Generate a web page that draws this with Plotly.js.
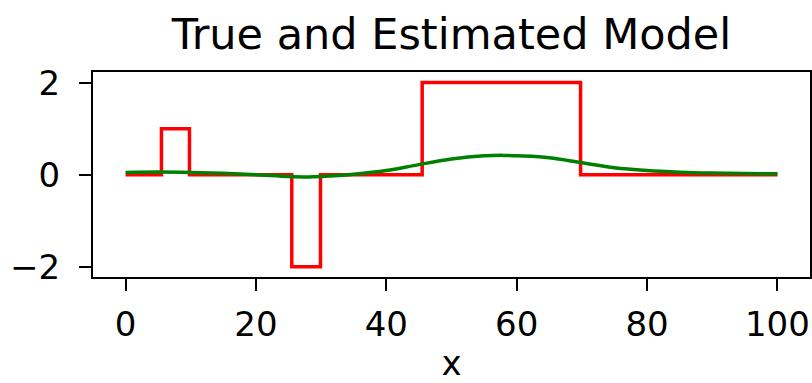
<!DOCTYPE html>
<html>
<head>
<meta charset="utf-8">
<script src="https://cdn.plot.ly/plotly-3.0.1.min.js"></script>
<style>html,body{margin:0;padding:0;background:#fff;}#chart{width:812px;height:383px;}</style>
</head>
<body>
<div id="chart"></div>
<script>
// True model (step function) breakpoints
const trueX = [0, 5.5, 5.5, 9.8, 9.8, 25.5, 25.5, 29.9, 29.9, 45.5, 45.5, 69.8, 69.8, 100];
const trueY = [0, 0, 1, 1, 0, 0, -2, -2, 0, 0, 2, 2, 0, 0];
// Estimated model
const estX = [0, 5, 10, 15, 20, 25, 28, 30, 35, 40, 45, 50, 55, 58, 60, 65, 70, 75, 80, 85, 90, 95, 100];
const estY = [0.05, 0.06, 0.05, 0.03, 0.0, -0.04, -0.05, -0.04, 0.01, 0.09, 0.22, 0.34, 0.41, 0.42, 0.41, 0.37, 0.26, 0.15, 0.09, 0.055, 0.035, 0.025, 0.02];
const xTicks = [0, 20, 40, 60, 80, 100];
const yTicks = [-2, 0, 2];

const font = 'DejaVu Sans, sans-serif';
const data = [
  {x: trueX, y: trueY, mode: 'lines', line: {color: '#ff0000', width: 3.5}, hoverinfo: 'skip'},
  {x: estX, y: estY, mode: 'lines', line: {color: '#008000', width: 3.5, shape: 'spline'}, hoverinfo: 'skip'}
];
const axisCommon = {
  showline: true, mirror: true, linecolor: '#000', linewidth: 2,
  ticks: 'outside', ticklen: 12, tickwidth: 2, tickcolor: '#000',
  showgrid: false, zeroline: false,
  tickfont: {family: font, size: 34, color: '#000'}
};
const layout = {
  width: 812, height: 383,
  margin: {l: 93, r: 2, t: 72, b: 106},
  paper_bgcolor: '#fff', plot_bgcolor: '#fff',
  showlegend: false,
  title: {text: 'True and Estimated Model', font: {family: font, size: 43, color: '#000'},
          xref: 'paper', x: 0.5, xanchor: 'center', yref: 'container', y: 1 - 34/383, yanchor: 'middle'},
  xaxis: Object.assign({}, axisCommon, {range: [-5, 105], tickvals: xTicks, ticklabelstandoff: 4,
          title: {text: 'x', font: {family: font, size: 34, color: '#000'}, standoff: 14}}),
  yaxis: Object.assign({}, axisCommon, {range: [-2.22, 2.23], tickvals: yTicks, ticklabelstandoff: 12})
};
Plotly.newPlot('chart', data, layout, {staticPlot: true, displayModeBar: false});
</script>
</body>
</html>
